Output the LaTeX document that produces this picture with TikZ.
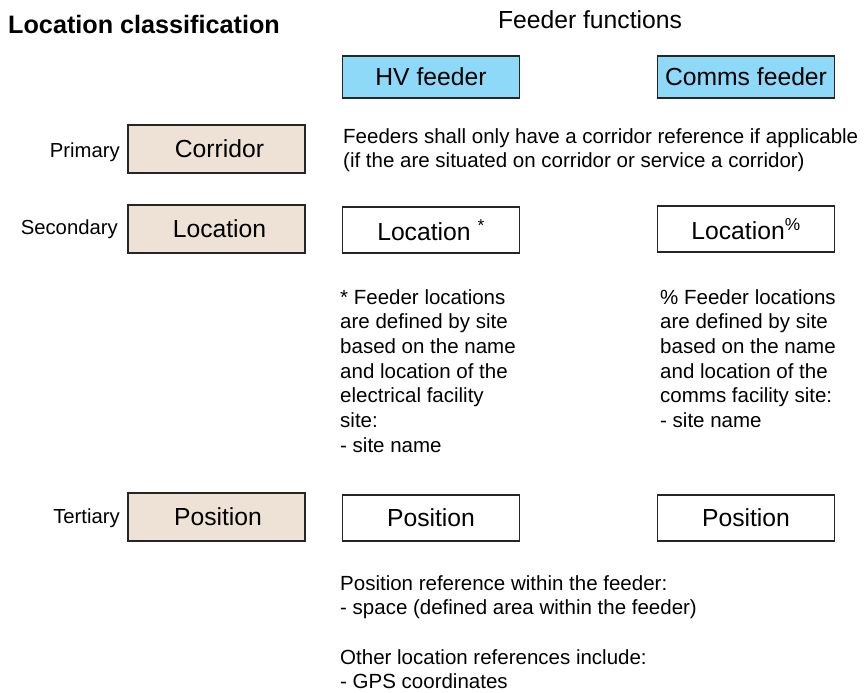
\documentclass[tikz,border=0pt]{standalone}
\usepackage{fontspec}
\setmainfont{Liberation Sans}
\definecolor{feederblue}{RGB}{142,216,248}
\definecolor{levelbeige}{RGB}{238,226,214}
\begin{document}
\begin{tikzpicture}[x=1pt,y=-1pt,
  box/.style={draw=black!85, line width=1.2pt, minimum width=177pt, minimum height=46pt,
    inner sep=0pt, font=\fontsize{24.7}{29}\selectfont},
  feeder/.style={box, fill=feederblue, minimum height=42pt},
  level/.style={box, fill=levelbeige, minimum height=48pt},
  plain/.style={box, fill=white},
  lbl/.style={anchor=east, inner sep=0pt, font=\fontsize{20.3}{24}\selectfont},
  heading/.style={inner sep=0pt, font=\fontsize{24.7}{29}\selectfont},
  note/.style={anchor=north west, inner sep=0pt, align=left, font=\fontsize{20.5}{24.7}\selectfont},
]
\useasboundingbox (0,0) rectangle (867,693);

% headings
\node[heading, anchor=west, font=\fontsize{25.2}{29}\selectfont\bfseries] (title) at (8,24) {Location classification};
\node[heading] (functions) at (590,20) {Feeder functions};

% feeder functions
\node[feeder] (hv) at (431,77) {HV feeder};
\node[feeder] (comms) at (746,77) {Comms feeder};

% classification levels
\node[level] (corridor) at (216.5,149) {\hspace{6pt}Corridor};
\node[level] (location) at (216.5,229) {\hspace{6pt}Location};
\node[level] (position) at (216.5,517) {\hspace{3pt}Position};
\node[lbl] (primary) at (120,152) {Primary};
\node[lbl] (secondary) at (118,229) {Secondary};
\node[lbl] (tertiary) at (120,518) {Tertiary};

% feeder locations and positions
\node[plain] (hvloc) at (431,230) {Location \textsuperscript{*}};
\node[plain] (commsloc) at (746,229) {Location\textsuperscript{\%}};
\node[plain] (hvpos) at (431,518) {Position};
\node[plain] (commspos) at (746,518) {Position};

% notes
\node[note] (corridornote) at (343,128) {Feeders shall only have a corridor reference if applicable\\(if the are situated on corridor or service a corridor)};
\node[note] (hvnote) at (340,289) {* Feeder locations\\are defined by site\\based on the name\\and location of the\\electrical facility\\site:\\- site name};
\node[note] (commsnote) at (660,289) {\% Feeder locations\\are defined by site\\based on the name\\and location of the\\comms facility site:\\- site name};
\node[note] (posnote) at (340,575) {Position reference within the feeder:\\- space (defined area within the feeder)\\[24.7pt]Other location references include:\\- GPS coordinates};
\end{tikzpicture}
\end{document}
